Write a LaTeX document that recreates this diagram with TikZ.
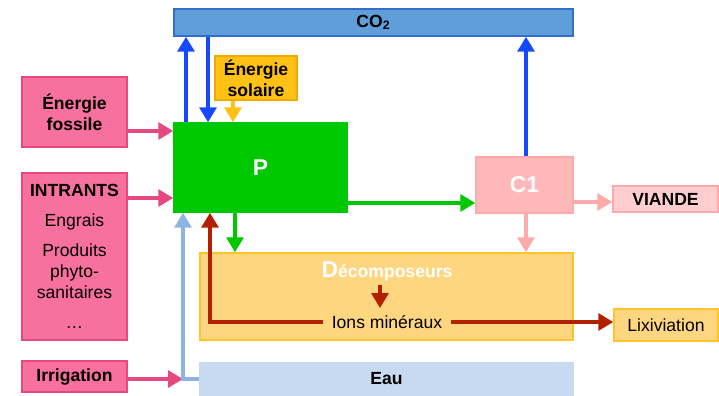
\documentclass[tikz,border=0pt]{standalone}
\usepackage{fontspec}
\setmainfont{Liberation Sans}
\usetikzlibrary{arrows.meta}

\definecolor{pinkfill}{RGB}{248,112,158}
\definecolor{pinkline}{RGB}{232,72,128}
\definecolor{co2fill}{RGB}{96,158,218}
\definecolor{co2line}{RGB}{50,110,205}
\definecolor{flowblue}{RGB}{22,72,255}
\definecolor{pgreen}{RGB}{0,200,0}
\definecolor{solfill}{RGB}{255,194,20}
\definecolor{solline}{RGB}{240,170,0}
\definecolor{decfill}{RGB}{255,214,128}
\definecolor{decline}{RGB}{255,196,40}
\definecolor{ionred}{RGB}{178,32,0}
\definecolor{eaufill}{RGB}{200,218,240}
\definecolor{eauarrow}{RGB}{140,180,226}
\definecolor{c1fill}{RGB}{255,184,184}
\definecolor{c1line}{RGB}{255,170,170}
\definecolor{viandefill}{RGB}{255,206,206}

\begin{document}
\begin{tikzpicture}[x=0.02cm, y=-0.02cm,
    box/.style={draw, line width=0.8pt, inner sep=0pt, align=center, font=\bfseries},
    flow/.style={line width=2.8pt, -{Triangle[width=9.5pt,length=8.5pt]}}]
    \useasboundingbox (0,0) rectangle (719,395);

    % boites
    \node[box, fill=co2fill, draw=co2line, minimum width=7.98cm, minimum height=0.54cm] (co2) at (373.5,22.5) {CO\textsubscript{2}};
    \node[box, fill=solfill, draw=solline, minimum width=1.64cm, minimum height=0.88cm] (solaire) at (256,78) {Énergie\\solaire};
    \node[box, fill=pinkfill, draw=pinkline, minimum width=2.1cm, minimum height=1.4cm] (fossile) at (74.5,112) {Énergie\\fossile};
    \node[box, fill=pgreen, draw=pgreen, text=white, font=\bfseries\fontsize{13}{15}\selectfont, minimum width=3.46cm, minimum height=1.78cm] (P) at (260.5,167.5) {P};
    \node[box, fill=pinkfill, draw=pinkline, font=\normalfont, minimum width=2.1cm, minimum height=3.34cm] (intrants) at (74.5,256.5)
        {\textbf{INTRANTS}\\[5pt] Engrais\\[5pt] Produits\\ phyto-\\ sanitaires\\[5pt] \dots};
    \node[box, fill=pinkfill, draw=pinkline, minimum width=2.1cm, minimum height=0.62cm] (irrigation) at (74.5,376.5) {Irrigation};
    \node[box, fill=c1fill, draw=c1line, text=white, font=\bfseries\fontsize{13}{15}\selectfont, minimum width=1.94cm, minimum height=1.12cm] (c1) at (524.5,185) {C1};
    \node[box, fill=viandefill, draw=c1line, minimum width=2.1cm, minimum height=0.52cm] (viande) at (665.5,199) {VIANDE};
    \node[box, fill=decfill, draw=decline, minimum width=7.46cm, minimum height=1.74cm] (decomp) at (386.5,296.5) {};
    \node[box, fill=decfill, draw=decline, font=\normalfont, minimum width=2.08cm, minimum height=0.64cm] (lixiv) at (666,325) {Lixiviation};
    \node[box, fill=eaufill, draw=eaufill, minimum width=7.46cm, minimum height=0.64cm] (eau) at (386.5,379) {Eau};

    \node[text=white, font=\bfseries, inner sep=2pt] (dtext) at (387,271) {{\fontsize{13}{15}\selectfont D}écomposeurs};
    \node[inner xsep=5pt, inner ysep=4pt] (ions) at (387,322) {Ions minéraux};
    \coordinate (wjoin) at (183,379);

    % echanges de CO2
    \draw[flow, flowblue] (P.north -| 186,0) -- (co2.south -| 186,0);
    \draw[flow, flowblue] (co2.south -| 208,0) -- (P.north -| 208,0);
    \draw[flow, flowblue] (c1.north -| 526,0) -- (co2.south -| 526,0);
    \draw[flow, solfill] (solaire.south -| 233,0) -- (P.north -| 233,0);

    % entrees
    \draw[flow, pinkline] (fossile.east |- 0,131) -- (P.west |- 0,131);
    \draw[flow, pinkline] (intrants.east |- 0,198) -- (P.west |- 0,198);
    \draw[flow, pinkline] (irrigation.east |- wjoin) -- (wjoin);
    \draw[flow, eauarrow] (eau.west) -- (wjoin) -- (wjoin |- P.south);

    % matiere organique
    \draw[flow, pgreen] (P.east |- 0,203) -- (c1.west |- 0,203);
    \draw[flow, pgreen] (P.south -| 235,0) -- (decomp.north -| 235,0);
    \draw[flow, c1line] (c1.east |- 0,202) -- (viande.west |- 0,202);
    \draw[flow, c1line] (c1.south -| 526,0) -- (decomp.north -| 526,0);

    % ions mineraux
    \draw[flow, ionred] (dtext.south -| 380,0) -- (ions.north -| 380,0);
    \draw[flow, ionred] (ions.west) -| (P.south -| 210,0);
    \draw[flow, ionred] (ions.east) -- (lixiv.west |- ions.east);
\end{tikzpicture}
\end{document}
